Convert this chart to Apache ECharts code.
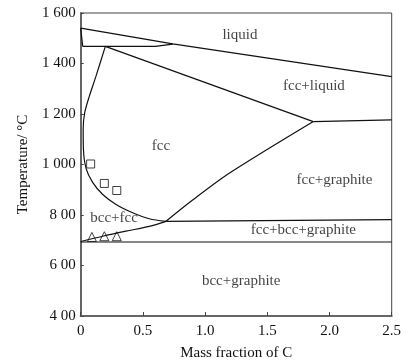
<!DOCTYPE html>
<html>
<head>
<meta charset="utf-8">
<title>Fe-C phase diagram</title>
<script src="https://cdn.jsdelivr.net/npm/echarts@6/dist/echarts.min.js"></script>
<style>
html, body { margin: 0; padding: 0; background: #fff; }
#chart { width: 409px; height: 363px; }
</style>
</head>
<body>
<div id="chart"></div>
<script>
// phase boundaries, [mass fraction of C, temperature]
var liquidus = [[0, 1540], [0.74, 1478], [2.5, 1348]];
var deltaEdge = [[0, 1540], [0.016, 1468]];
var peritectic = [[0.016, 1468], [0.6, 1468], [0.74, 1477]];
var fccLiquidus = [[0.198, 1468], [1.87, 1170]];
var eutectic = [[1.87, 1170], [2.5, 1177]];
var fccBoundary = [[0.198, 1468], [0.123, 1350], [0.069, 1270], [0.032, 1205], [0.02, 1140],
    [0.022, 1060], [0.043, 985], [0.096, 929], [0.177, 881], [0.284, 842], [0.418, 809],
    [0.551, 785], [0.686, 775]];
var acm = [[0.686, 775], [0.905, 861], [1.2, 967], [1.87, 1170]];
var upperEutectoid = [[0.686, 775], [2.5, 782]];
var eutectoidCurve = [[0, 695], [0.177, 716], [0.364, 736], [0.551, 755], [0.686, 775]];
var lowerEutectoid = [[0, 693], [2.5, 693]];

// measured points
var squares = [[0.08, 1002], [0.19, 925], [0.29, 897]];
var triangles = [[0.09, 713], [0.19, 716], [0.29, 716]];

// region labels
var regionNames = ['liquid', 'fcc+liquid', 'fcc', 'fcc+graphite', 'bcc+fcc', 'fcc+bcc+graphite', 'bcc+graphite'];
var regionPos = [[1.28, 1511], [1.875, 1309], [0.645, 1075], [2.04, 940], [0.268, 786], [1.79, 741], [1.29, 537]];

var xTicks = {0: '0', 0.5: '0.5', 1: '1.0', 1.5: '1.5', 2: '2.0', 2.5: '2.5'};
var yTicks = {400: '4 00', 600: '6 00', 800: '8 00', 1000: '1 000', 1200: '1 200', 1400: '1 400', 1600: '1 600'};

var font = 'Liberation Serif';
var chart = echarts.init(document.getElementById('chart'));

function boundary(data, smooth) {
    return {
        type: 'line',
        data: data,
        symbol: 'none',
        smooth: smooth || false,
        lineStyle: { color: '#111', width: 1.2 },
        silent: true,
        z: 3
    };
}

var series = [
    boundary(liquidus),
    boundary(deltaEdge),
    boundary(peritectic),
    boundary(fccLiquidus),
    boundary(eutectic),
    boundary(fccBoundary, 0.3),
    boundary(acm, 0.3),
    boundary(upperEutectoid),
    boundary(eutectoidCurve, 0.3),
    boundary(lowerEutectoid),
    {
        type: 'scatter',
        data: squares,
        symbol: 'rect',
        symbolSize: 8,
        itemStyle: { color: '#fff', borderColor: '#111', borderWidth: 1 },
        z: 4
    },
    {
        type: 'scatter',
        data: triangles,
        symbol: 'triangle',
        symbolSize: 9,
        itemStyle: { color: 'rgba(255,255,255,0)', borderColor: '#111', borderWidth: 1 },
        z: 4
    },
    {
        type: 'scatter',
        data: regionPos.map(function (p, i) { return { value: p, name: regionNames[i] }; }),
        symbolSize: 0,
        label: {
            show: true,
            position: 'inside',
            formatter: '{b}',
            fontFamily: font,
            fontSize: 15,
            color: '#111'
        },
        silent: true,
        z: 5
    }
];

chart.setOption({
    animation: false,
    grid: {
        left: 80.7, right: 17.3, top: 13, bottom: 47,
        containLabel: false,
        outerBoundsMode: 'none',
        show: true, borderColor: '#444', borderWidth: 1
    },
    xAxis: {
        type: 'value',
        min: 0, max: 2.5, interval: 0.5,
        name: 'Mass fraction of C',
        nameLocation: 'middle',
        nameGap: 30,
        nameTextStyle: { fontFamily: font, fontSize: 15, color: '#111' },
        axisLine: { lineStyle: { color: '#666', width: 2 } },
        axisTick: { inside: true, length: 4, lineStyle: { color: '#444' } },
        axisLabel: {
            margin: 8, fontFamily: font, fontSize: 15, color: '#111',
            formatter: function (v) { return xTicks[v]; }
        },
        splitLine: { show: false }
    },
    yAxis: {
        type: 'value',
        min: 400, max: 1600, interval: 200,
        name: 'Temperature/ °C',
        nameLocation: 'middle',
        nameGap: 50,
        nameTextStyle: { fontFamily: font, fontSize: 15, color: '#111' },
        axisLine: { lineStyle: { color: '#666', width: 2 } },
        axisTick: { inside: true, length: 3, lineStyle: { color: '#444' } },
        axisLabel: {
            margin: 5, fontFamily: font, fontSize: 15, color: '#111',
            formatter: function (v) { return yTicks[v]; }
        },
        splitLine: { show: false }
    },
    series: series
});
</script>
</body>
</html>
